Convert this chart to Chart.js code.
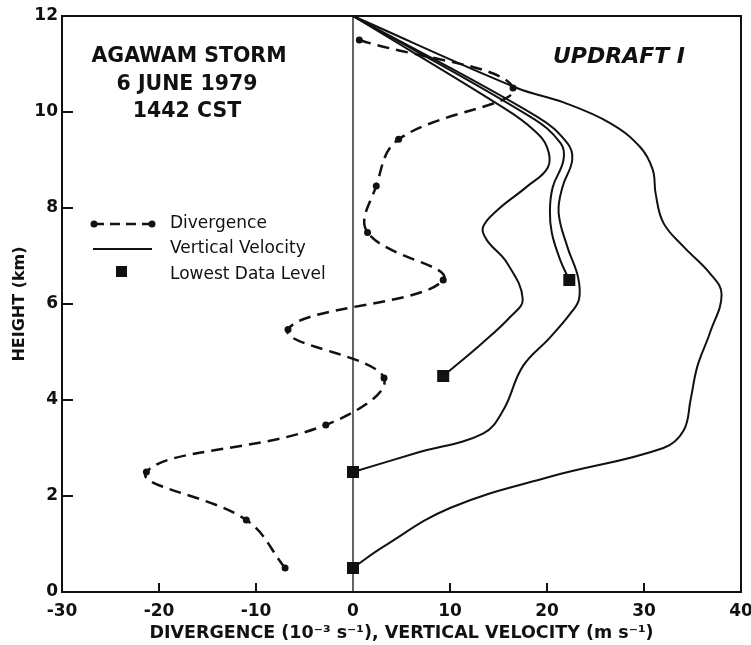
<!DOCTYPE html>
<html>
<head>
<meta charset="utf-8">
<script src="https://cdn.jsdelivr.net/npm/chart.js@4.4.1/dist/chart.umd.min.js"></script>
<style>
  html, body { margin: 0; padding: 0; background: #fff; }
  #wrap { width: 751px; height: 645px; position: relative; }
</style>
</head>
<body>
<div id="wrap"><canvas id="c" width="751" height="645"></canvas></div>
<script>
// ---- tick labels ----
const xTickValues = [-30, -20, -10, 0, 10, 20, 30, 40];
const yTickValues = [0, 2, 4, 6, 8, 10, 12];

// ---- divergence (10^-3 s^-1) vs height (km) ----
const divHeight = [11.5, 10.5, 9.43, 8.46, 7.49, 6.5, 5.47, 4.46, 3.48, 2.5, 1.5, 0.5];
const divValue  = [0.65, 16.5, 4.7, 2.4, 1.5, 9.3, -6.7, 3.2, -2.8, -21.3, -11.0, -7.0];

// ---- vertical velocity profiles (m s^-1) ----
const velAHeight = [0.5, 0.94, 1.75, 2.4, 3.0, 3.37, 4.0, 4.7, 5.4, 6.2, 6.64, 7.19, 7.69, 8.3, 8.8, 9.27, 9.77, 10.2, 10.5, 12];
const velAValue  = [0, 3.1, 10.0, 20.3, 32.0, 34.1, 34.8, 35.5, 36.8, 38.0, 36.8, 34.1, 32.0, 31.2, 30.9, 29.6, 26.5, 21.7, 16.9, 0];

const velBHeight = [2.5, 2.9, 3.3, 3.79, 4.7, 5.3, 5.8, 6.1, 6.56, 7.19, 7.9, 8.44, 9.0, 9.35, 9.9, 12];
const velBValue  = [0, 6.6, 13.4, 15.5, 17.5, 20.3, 22.4, 23.3, 23.2, 22.1, 21.2, 21.6, 22.6, 22.1, 19.0, 0];

const velCHeight = [6.5, 6.9, 7.48, 7.96, 8.44, 9.0, 9.35, 9.9, 12];
const velCValue  = [22.3, 21.4, 20.5, 20.3, 20.6, 21.7, 21.4, 18.3, 0];

const velDHeight = [4.5, 5.2, 5.73, 6.1, 6.85, 7.33, 7.6, 7.96, 8.44, 8.85, 9.27, 9.63, 10.04, 12];
const velDValue  = [9.3, 13.4, 16.2, 17.5, 15.9, 13.8, 13.4, 14.9, 17.9, 20.1, 20.0, 18.6, 15.9, 0];

// ---- lowest data level markers ----
const lowestHeight = [0.5, 2.5, 4.5, 6.5];
const lowestValue  = [0, 0, 9.3, 22.3];

const toPts = (xs, ys) => xs.map((x, i) => ({ x: x, y: ys[i] }));
const INK = '#111';
const FONT = '"DejaVu Sans", sans-serif';

function velDataset(xs, ys) {
  return {
    data: toPts(xs, ys),
    showLine: true,
    borderColor: INK,
    borderWidth: 2,
    pointRadius: 0,
    tension: 0.4,
    fill: false,
    clip: false
  };
}

const framePlugin = {
  id: 'frame',
  beforeDatasetsDraw(chart) {
    const { ctx, chartArea: a, scales: { x } } = chart;
    ctx.save();
    ctx.strokeStyle = INK;
    ctx.lineWidth = 1.3;
    const x0 = x.getPixelForValue(0);
    ctx.beginPath(); ctx.moveTo(x0, a.bottom); ctx.lineTo(x0, a.top); ctx.stroke();
    ctx.restore();
  },
  afterDatasetsDraw(chart) {
    const { ctx, chartArea: a, scales: { x, y } } = chart;
    ctx.save();
    ctx.strokeStyle = INK;
    ctx.lineWidth = 2;
    ctx.strokeRect(a.left, a.top, a.right - a.left, a.bottom - a.top);
    yTickValues.forEach(v => {
      if (v === 0 || v === 12) return;
      const py = y.getPixelForValue(v);
      ctx.beginPath(); ctx.moveTo(a.left, py); ctx.lineTo(a.left + 11, py); ctx.stroke();
    });
    xTickValues.forEach(v => {
      if (v === -30 || v === 0 || v === 40) return;
      const px = x.getPixelForValue(v);
      ctx.beginPath(); ctx.moveTo(px, a.bottom); ctx.lineTo(px, a.bottom - 9); ctx.stroke();
    });

    // annotation text
    ctx.fillStyle = INK;
    ctx.textAlign = 'center';
    ctx.textBaseline = 'alphabetic';
    ctx.font = 'bold 20.5px ' + FONT;
    ctx.fillText('AGAWAM STORM', 189, 62);
    ctx.fillText('6 JUNE 1979', 187, 90);
    ctx.fillText('1442 CST', 187, 117);
    ctx.font = 'italic bold 22px ' + FONT;
    ctx.fillText('UPDRAFT I', 619, 63);

    // legend
    ctx.lineWidth = 2.5;
    ctx.setLineDash([10, 6]);
    ctx.beginPath(); ctx.moveTo(94, 224); ctx.lineTo(152, 224); ctx.stroke();
    ctx.setLineDash([]);
    [94, 152].forEach(px => { ctx.beginPath(); ctx.arc(px, 224, 3.5, 0, Math.PI * 2); ctx.fill(); });
    ctx.lineWidth = 2;
    ctx.beginPath(); ctx.moveTo(93, 249); ctx.lineTo(152, 249); ctx.stroke();
    ctx.fillRect(116, 266, 11, 11);
    ctx.textAlign = 'left';
    ctx.textBaseline = 'middle';
    ctx.font = '17px ' + FONT;
    ctx.fillText('Divergence', 170, 224);
    ctx.fillText('Vertical Velocity', 170, 249);
    ctx.fillText('Lowest Data Level', 170, 275);
    ctx.restore();
  }
};

new Chart(document.getElementById('c'), {
  type: 'scatter',
  plugins: [framePlugin],
  data: {
    datasets: [
      velDataset(velAValue, velAHeight),
      velDataset(velBValue, velBHeight),
      velDataset(velCValue, velCHeight),
      velDataset(velDValue, velDHeight),
      {
        data: toPts(divValue, divHeight),
        showLine: true,
        borderColor: INK,
        borderWidth: 2.5,
        borderDash: [12, 7],
        tension: 0.4,
        pointRadius: 3.5,
        pointBackgroundColor: INK,
        pointBorderColor: INK,
        pointBorderWidth: 0,
        fill: false,
        clip: false
      },
      {
        data: toPts(lowestValue, lowestHeight),
        showLine: false,
        pointStyle: 'rect',
        pointRadius: 8.5,
        pointBackgroundColor: INK,
        pointBorderColor: INK,
        pointBorderWidth: 0,
        clip: false
      }
    ]
  },
  options: {
    responsive: false,
    animation: false,
    events: [],
    layout: { padding: { top: 16, right: 10, left: 0, bottom: 0 } },
    plugins: { legend: { display: false }, tooltip: { enabled: false } },
    scales: {
      x: {
        type: 'linear',
        min: -30, max: 40,
        afterBuildTicks: s => { s.ticks = xTickValues.map(v => ({ value: v })); },
        afterFit: s => { s.height = 53; s.paddingLeft = 0; s.paddingRight = 0; },
        grid: { display: false, drawTicks: false },
        border: { display: false },
        ticks: { color: INK, font: { family: FONT, size: 17, weight: 'bold' }, padding: 9, maxRotation: 0, autoSkip: false },
        title: {
          display: true,
          text: 'DIVERGENCE (10\u207B\u00B3 s\u207B\u00B9), VERTICAL VELOCITY (m s\u207B\u00B9)',
          color: INK,
          font: { family: FONT, size: 17.5, weight: 'bold' },
          padding: { top: 0, bottom: 1 }
        }
      },
      y: {
        type: 'linear',
        min: 0, max: 12,
        afterBuildTicks: s => { s.ticks = yTickValues.map(v => ({ value: v })); },
        afterFit: s => { s.width = 62; s.paddingTop = 0; s.paddingBottom = 0; },
        grid: { display: false, drawTicks: false },
        border: { display: false },
        ticks: { color: INK, font: { family: FONT, size: 17, weight: 'bold' }, padding: 4, autoSkip: false },
        title: {
          display: true,
          text: 'HEIGHT (km)',
          color: INK,
          font: { family: FONT, size: 16, weight: 'bold' },
          padding: { top: 10, bottom: 0 }
        }
      }
    }
  }
});
</script>
</body>
</html>
